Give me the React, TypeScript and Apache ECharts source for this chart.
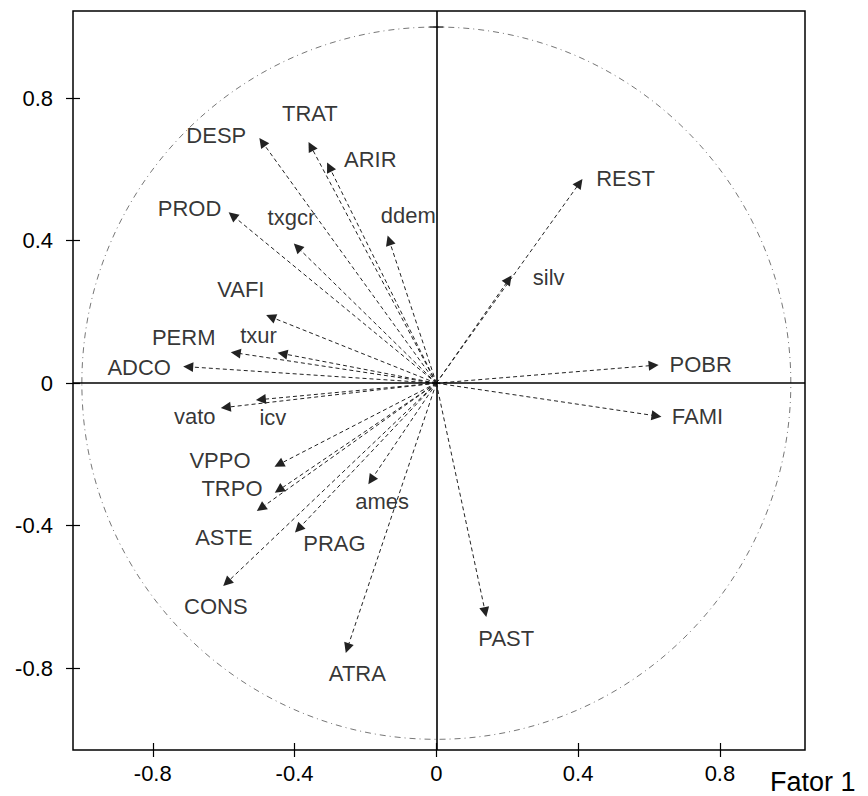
import React, { useEffect, useRef } from "react";
import * as echarts from "echarts";

// Variable names and their loadings on factor 1 (x) and factor 2 (y)
const names = [
  "DESP", "TRAT", "ARIR", "PROD", "txgcr", "ddem", "REST", "silv", "POBR",
  "VAFI", "txur", "PERM", "ADCO", "icv", "vato", "VPPO", "TRPO", "ASTE",
  "ames", "PRAG", "CONS", "ATRA", "FAMI", "PAST",
];
const fator1 = [
  -0.491, -0.354, -0.302, -0.575, -0.392, -0.133, 0.404, 0.204, 0.613,
  -0.467, -0.434, -0.566, -0.7, -0.495, -0.594, -0.444, -0.444, -0.495,
  -0.184, -0.389, -0.591, -0.251, 0.621, 0.138,
];
const fator2 = [
  0.677, 0.665, 0.607, 0.471, 0.382, 0.401, 0.562, 0.291, 0.05,
  0.186, 0.083, 0.085, 0.046, -0.046, -0.068, -0.228, -0.3, -0.351,
  -0.272, -0.409, -0.56, -0.744, -0.092, -0.643,
];
const tickValues = [-0.8, -0.4, 0, 0.4, 0.8];
const xTitle = "Fator 1";

// Layout only: label centre offsets (px) relative to each arrow tip
const labelOffsets: [number, number][] = [
  [-46, -7], [-1, -33], [41, -7], [-43, -7], [-6, -30], [19, -25], [46, -5], [40, -2], [47, -1],
  [-30, -27], [-24, -18], [-52, -15], [-49, 1], [12, 18], [-31, 9], [-59, -4], [-47, -2], [-37, 29],
  [11, 21], [36, 15], [-11, 24], [10, 25], [41, 1], [21, 26],
];

const FONT = "'Liberation Sans', Arial, Helvetica, sans-serif";

export default function App() {
  const ref = useRef<HTMLDivElement>(null);
  useEffect(() => {
    if (!ref.current) return;
    const chart = echarts.init(ref.current, null, { renderer: "svg" });
    const xMin = -1.025, xMax = 1.04, yMin = -1.03, yMax = 1.045;
    const axisBase = (pos: string) => ({
      type: "value",
      position: pos,
      offset: 0,
      splitLine: { show: false },
      axisLine: { show: false, onZero: false },
    });
    const tickStyle = { color: "#000", width: 1.2 };
    const option: any = {
      animation: false,
      grid: {
        left: 73, right: 63, top: 11, bottom: 46,
        show: true, borderColor: "#000", borderWidth: 1.5, backgroundColor: "transparent",
      },
      xAxis: [
        {
          ...axisBase("bottom"), min: xMin, max: xMax,
          axisTick: { show: true, inside: false, length: 7, customValues: tickValues, lineStyle: tickStyle },
          axisLabel: { show: true, customValues: tickValues, fontSize: 22, color: "#000", fontFamily: FONT, margin: 12 },
        },
        {
          ...axisBase("bottom"), min: xMin, max: xMax,
          axisTick: { show: true, inside: true, length: 7, customValues: tickValues, lineStyle: tickStyle },
          axisLabel: { show: false },
        },
      ],
      yAxis: [
        {
          ...axisBase("left"), min: yMin, max: yMax,
          axisTick: { show: true, inside: false, length: 7, customValues: tickValues, lineStyle: tickStyle },
          axisLabel: { show: true, customValues: tickValues, fontSize: 22, color: "#000", fontFamily: FONT, margin: 20 },
        },
        {
          ...axisBase("left"), min: yMin, max: yMax,
          axisTick: { show: true, inside: true, length: 7, customValues: tickValues, lineStyle: tickStyle },
          axisLabel: { show: false },
        },
      ],
      series: [
        {
          type: "lines",
          coordinateSystem: "cartesian2d",
          xAxisIndex: 0,
          yAxisIndex: 0,
          symbol: ["none", "triangle"],
          symbolSize: 10,
          lineStyle: { color: "#222", width: 1, type: [4, 3], opacity: 1 },
          data: names.map((n, i) => ({ name: n, coords: [[0, 0], [fator1[i], fator2[i]]] })),
          markLine: {
            silent: true,
            symbol: ["none", "none"],
            label: { show: false },
            lineStyle: { color: "#000", type: "solid", width: 1.6 },
            data: [{ xAxis: 0 }, { yAxis: 0 }],
          },
          z: 3,
        },
        {
          type: "scatter",
          xAxisIndex: 0,
          yAxisIndex: 0,
          symbol: "circle",
          symbolSize: 1,
          itemStyle: { color: "transparent" },
          data: names.map((n, i) => ({
            name: n,
            value: [fator1[i], fator2[i]],
            label: { offset: labelOffsets[i] },
          })),
          label: {
            show: true,
            position: "inside",
            formatter: (p: any) => p.name,
            fontSize: 22,
            color: "#000",
            fontFamily: FONT,
          },
          z: 4,
        },
      ],
    };
    chart.setOption(option);

    const c = chart.convertToPixel({ gridIndex: 0 }, [0, 0]) as number[];
    const px = chart.convertToPixel({ gridIndex: 0 }, [1, 0]) as number[];
    const py = chart.convertToPixel({ gridIndex: 0 }, [0, 1]) as number[];
    const rx = px[0] - c[0];
    const ry = c[1] - py[1];
    const br = chart.convertToPixel({ gridIndex: 0 }, [xMax, yMin]) as number[];
    chart.setOption({
      graphic: [
        {
          type: "ellipse",
          shape: { cx: c[0], cy: c[1], rx, ry },
          style: { fill: "none", stroke: "#777", lineWidth: 1, lineDash: [6, 4, 1, 4] },
          silent: true,
          z: 1,
        },
        {
          type: "line",
          shape: { x1: c[0] - 7, y1: py[1], x2: c[0] + 7, y2: py[1] },
          style: { stroke: "#000", lineWidth: 1.2 },
          silent: true,
          z: 5,
        },
        {
          type: "text",
          x: br[0] - 35,
          y: br[1] + 32,
          style: { text: xTitle, fontSize: 27, fill: "#000", fontFamily: FONT, verticalAlign: "middle", align: "left" },
          silent: true,
        },
      ],
    });
    return () => chart.dispose();
  }, []);
  return (
    <div
      ref={ref}
      style={{ position: "absolute", left: 0, top: 0, width: 868, height: 796, background: "#fff" }}
    />
  );
}
